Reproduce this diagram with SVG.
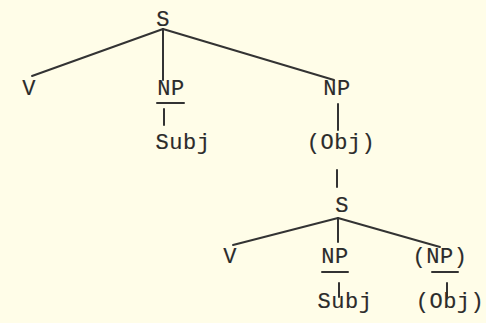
<svg xmlns="http://www.w3.org/2000/svg" width="486" height="323" viewBox="0 0 486 323">
  <style>
    .lbl { font-family: "Liberation Mono", "Courier New", monospace; font-size: 22px; fill: #2b2b2b; stroke: #2b2b2b; stroke-width: 0.15; text-anchor: middle; letter-spacing: 0.5px; }
    .edge { stroke: #333; stroke-width: 2; fill: none; stroke-linecap: round; }
  </style>
  <rect width="486" height="323" fill="#fffde8"/>

  <!-- tree edges and bars -->
  <g id="connectors">
    <line class="edge" x1="163" y1="29" x2="32" y2="76"/>
    <line class="edge" x1="163" y1="29" x2="163" y2="80"/>
    <line class="edge" x1="163" y1="29" x2="334" y2="80"/>
    <line class="edge" x1="157" y1="103" x2="184" y2="103"/>
    <line class="edge" x1="164" y1="109" x2="164" y2="125"/>
    <line class="edge" x1="338" y1="104" x2="338" y2="130"/>
    <line class="edge" x1="337" y1="170" x2="337" y2="187"/>
    <line class="edge" x1="338" y1="218" x2="233" y2="245"/>
    <line class="edge" x1="338" y1="218" x2="338" y2="242"/>
    <line class="edge" x1="338" y1="218" x2="440" y2="247"/>
    <line class="edge" x1="322" y1="272" x2="348" y2="272"/>
    <line class="edge" x1="339" y1="283" x2="339" y2="297"/>
    <line class="edge" x1="432" y1="272" x2="458" y2="272"/>
    <line class="edge" x1="447" y1="283" x2="447" y2="297"/>
  </g>

  <g id="s-top"><text class="lbl" x="163" y="26">S</text></g>
  <g id="v-top"><text class="lbl" x="29" y="95">V</text></g>
  <g id="np-subj-top"><text class="lbl" x="171" y="95">NP</text></g>
  <g id="subj-top"><text class="lbl" x="183" y="149">Subj</text></g>
  <g id="np-obj-top"><text class="lbl" x="337" y="95">NP</text></g>
  <g id="obj-top"><text class="lbl" x="341" y="149">(Obj)</text></g>
  <g id="s-embedded"><text class="lbl" x="342" y="212">S</text></g>
  <g id="v-embedded"><text class="lbl" x="230" y="263">V</text></g>
  <g id="np-subj-embedded"><text class="lbl" x="335" y="263">NP</text></g>
  <g id="subj-embedded"><text class="lbl" x="345" y="308">Subj</text></g>
  <g id="np-obj-embedded"><text class="lbl" x="440" y="263">(NP)</text></g>
  <g id="obj-embedded"><text class="lbl" x="450" y="308">(Obj)</text></g>
</svg>
